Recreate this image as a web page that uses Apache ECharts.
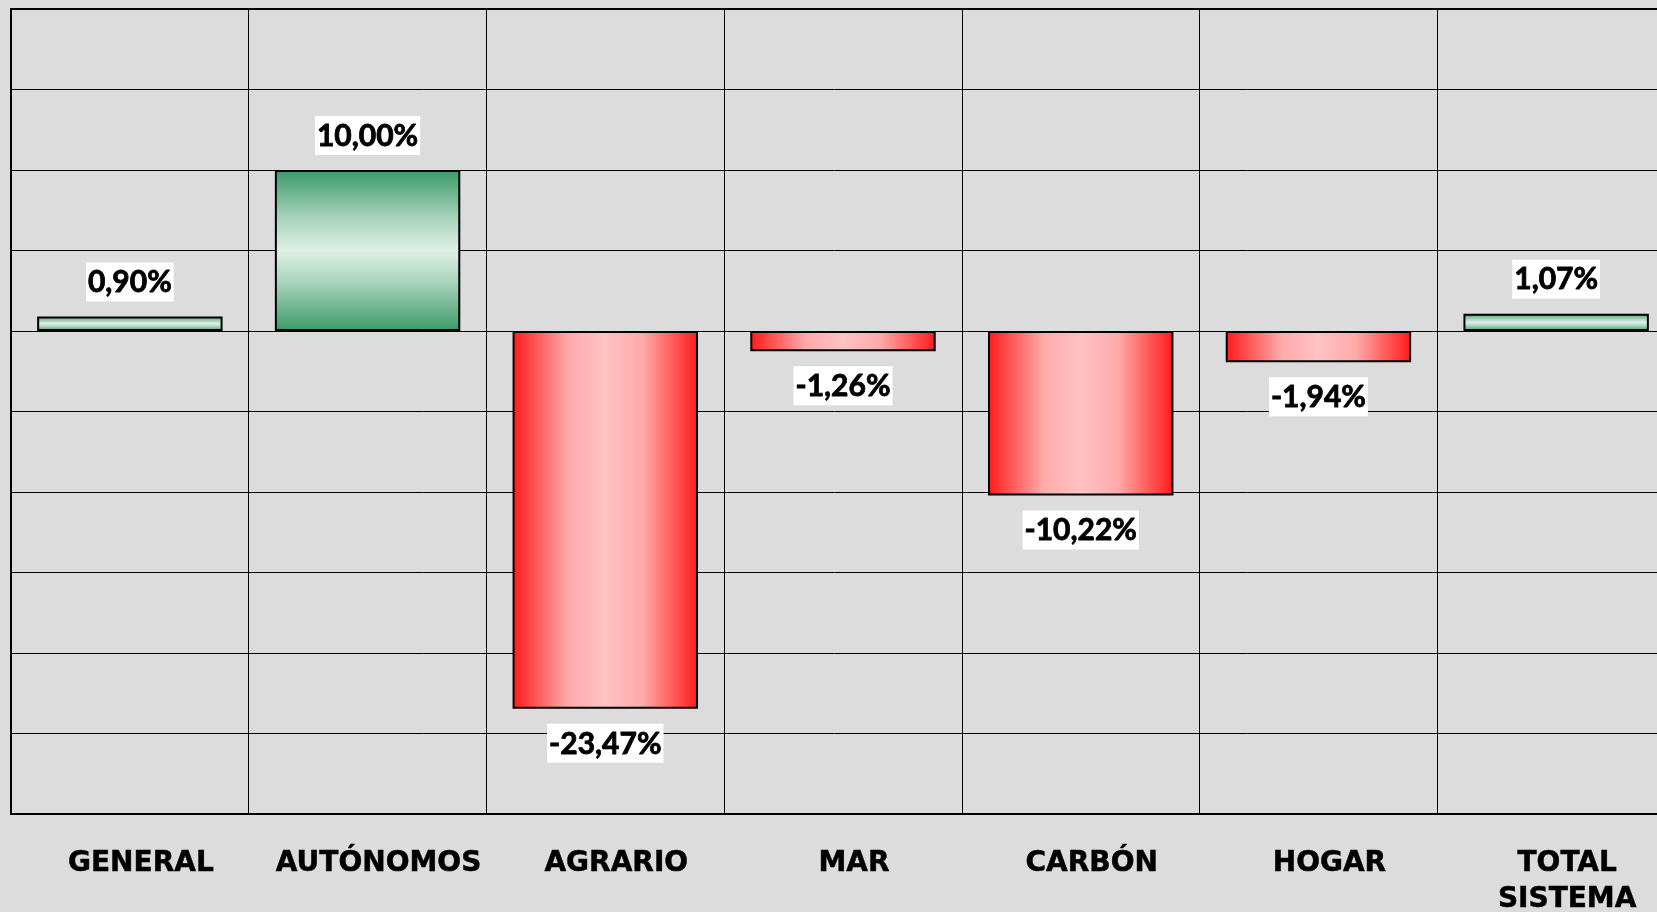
<!DOCTYPE html>
<html>
<head>
<meta charset="utf-8">
<script src="https://cdn.jsdelivr.net/npm/echarts@6/dist/echarts.min.js"></script>
<style>
  html, body { margin: 0; padding: 0; background: #dcdcdc; }
  #content { width: 1657px; height: 912px; }
</style>
</head>
<body>
<div id="content"></div>
<script>
var categories = ['GENERAL', 'AUTÓNOMOS', 'AGRARIO', 'MAR', 'CARBÓN', 'HOGAR', 'TOTAL\nSISTEMA'];
var values = [0.90, 10.00, -23.47, -1.26, -10.22, -1.94, 1.07];

var greenFill = new echarts.graphic.LinearGradient(0, 0, 0, 1, [
    {offset: 0, color: '#3a9a68'},
    {offset: 0.3, color: '#a9d3bc'},
    {offset: 0.5, color: '#e0f0e6'},
    {offset: 0.7, color: '#a9d3bc'},
    {offset: 1, color: '#3a9a68'}
]);
var redFill = new echarts.graphic.LinearGradient(0, 0, 1, 0, [
    {offset: 0, color: '#ff1a1a'},
    {offset: 0.3, color: '#ffaaaa'},
    {offset: 0.5, color: '#ffc2c2'},
    {offset: 0.7, color: '#ffaaaa'},
    {offset: 1, color: '#ff1a1a'}
]);

var barData = values.map(function (v) {
    return {
        value: v,
        itemStyle: {color: v >= 0 ? greenFill : redFill},
        label: {position: v >= 0 ? 'top' : 'bottom'}
    };
});

var myChart = echarts.init(document.getElementById('content'));
myChart.setOption({
    backgroundColor: '#dcdcdc',
    animation: false,
    grid: {
        left: 11, top: 9, width: 1664, bottom: 98,
        outerBoundsMode: 'none',
        containLabel: false,
        show: true,
        backgroundColor: '#dcdcdc',
        borderColor: '#000',
        borderWidth: 2
    },
    xAxis: {
        type: 'category',
        data: categories,
        axisLine: {show: false, onZero: false},
        axisTick: {show: false},
        splitLine: {show: true, interval: 0, lineStyle: {color: '#000', width: 1}},
        axisLabel: {
            interval: 0,
            margin: 32,
            color: '#000',
            fontFamily: 'DejaVu Sans',
            fontWeight: 'bold',
            fontSize: 28,
            lineHeight: 36,
            padding: [0, 0, 0, 22],
            textBorderColor: '#000',
            textBorderWidth: 0.5
        }
    },
    yAxis: {
        type: 'value',
        min: -30,
        max: 20,
        interval: 5,
        axisLine: {show: false},
        axisTick: {show: false},
        axisLabel: {show: false},
        splitLine: {show: true, lineStyle: {color: '#000', width: 1}}
    },
    series: [
        {
            type: 'bar',
            data: barData,
            barCategoryGap: '22%',
            itemStyle: {borderColor: '#000', borderWidth: 2},
            label: {
                show: true,
                distance: 15,
                color: '#000',
                fontFamily: 'Lato',
                fontWeight: 'bold',
                fontSize: 30,
                lineHeight: 32,
                backgroundColor: '#fff',
                padding: [4, 2, 3, 2],
                textBorderColor: '#000',
                textBorderWidth: 0.8,
                formatter: function (p) {
                    return p.value.toFixed(2).replace('.', ',') + '%';
                }
            }
        }
    ]
});
</script>
</body>
</html>
